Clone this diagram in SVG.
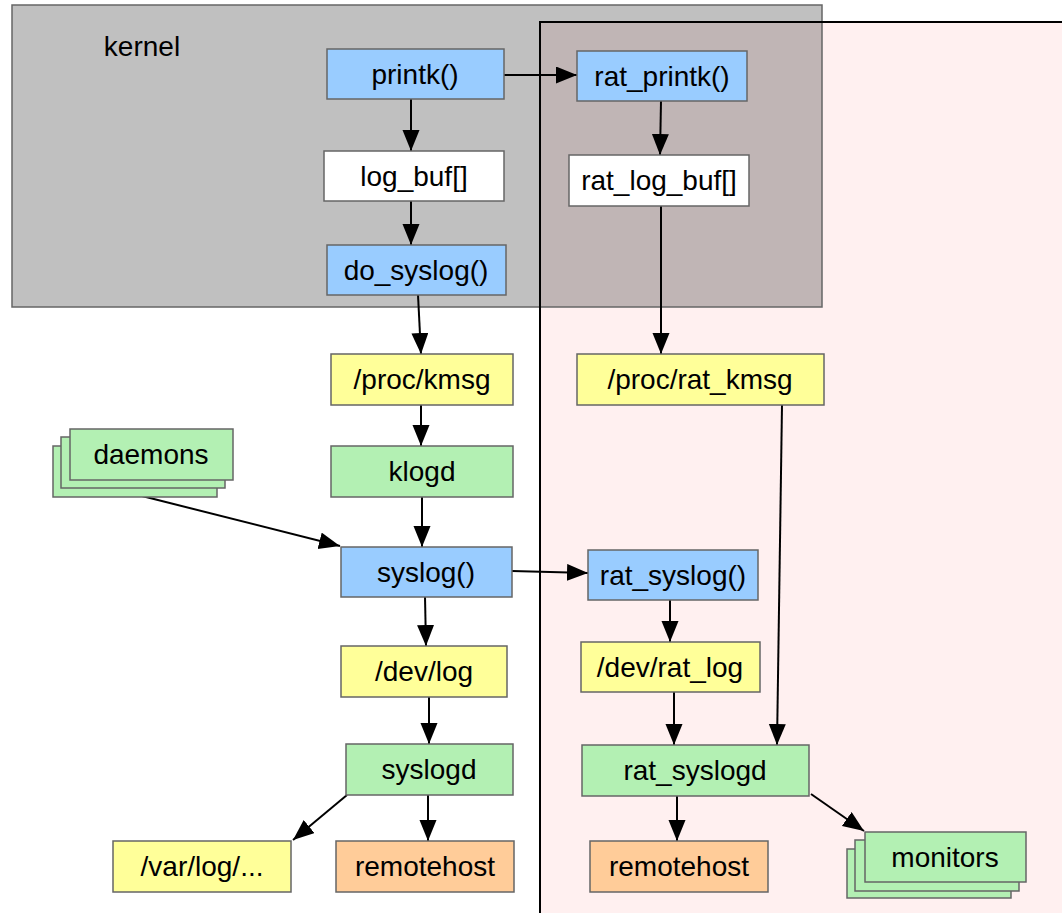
<svg xmlns="http://www.w3.org/2000/svg" width="1062" height="913" viewBox="0 0 1062 913">
<style>
text{font-family:"Liberation Sans",Arial,sans-serif;font-size:28px;fill:#000;text-anchor:middle}
.n{stroke:#666;stroke-width:1.5}
.blue{fill:#99ccff}.yellow{fill:#ffff99}.green{fill:#b3f0b3}.orange{fill:#ffcc99}.white{fill:#fff}
.c line{stroke:#000;stroke-width:2;marker-end:url(#ah)}
</style>
<defs>
<marker id="ah" markerUnits="userSpaceOnUse" markerWidth="22" markerHeight="18" refX="21" refY="8.5" orient="auto">
<path d="M0,0 L21,8.5 L0,17 z" fill="#000"/>
</marker>
</defs>
<rect x="0" y="0" width="1062" height="913" fill="#fff"/>
<g id="regions">
<rect x="12" y="5" width="810" height="302" fill="#c0c0c0"/>
<rect x="540" y="22" width="540" height="900" fill="#fff0f0"/>
<rect x="540" y="22" width="282" height="285" fill="#c0b5b5"/>
<rect x="12" y="5" width="810" height="302" fill="none" stroke="#666" stroke-width="1.5"/>
<rect x="540" y="22" width="540" height="900" fill="none" stroke="#000" stroke-width="2"/>
<text x="142" y="56">kernel</text>
</g>
<g class="c" id="connectors">
<line x1="411" y1="99" x2="411" y2="151"/>
<line x1="411" y1="201" x2="411" y2="245"/>
<line x1="418" y1="295" x2="421" y2="354"/>
<line x1="421" y1="405" x2="421" y2="446"/>
<line x1="422" y1="497" x2="422" y2="547"/>
<line x1="142" y1="496" x2="340" y2="546"/>
<line x1="425" y1="597" x2="426" y2="646"/>
<line x1="429" y1="697" x2="429" y2="744"/>
<line x1="347" y1="795" x2="293" y2="840"/>
<line x1="428" y1="795" x2="428" y2="841"/>
<line x1="504" y1="75" x2="577" y2="75"/>
<line x1="661" y1="101" x2="660" y2="155"/>
<line x1="661" y1="206" x2="661" y2="354"/>
<line x1="512" y1="571" x2="588" y2="573"/>
<line x1="670" y1="600" x2="670" y2="642"/>
<line x1="674" y1="692" x2="674" y2="745"/>
<line x1="782" y1="405" x2="777" y2="745"/>
<line x1="677" y1="796" x2="677" y2="841"/>
<line x1="811" y1="794" x2="864" y2="831"/>
</g>
<g id="printk"><rect class="n blue" x="327" y="49" width="177" height="50"/><text x="415" y="84">printk()</text></g>
<g id="log_buf"><rect class="n white" x="324" y="151" width="180" height="50"/><text x="414" y="186">log_buf[]</text></g>
<g id="do_syslog"><rect class="n blue" x="327" y="245" width="179" height="50"/><text x="416" y="280">do_syslog()</text></g>
<g id="rat_printk"><rect class="n blue" x="577" y="51" width="170" height="50"/><text x="662" y="86">rat_printk()</text></g>
<g id="rat_log_buf"><rect class="n white" x="569" y="155" width="180" height="51"/><text x="659" y="190">rat_log_buf[]</text></g>
<g id="proc_kmsg"><rect class="n yellow" x="331" y="354" width="182" height="51"/><text x="422" y="389">/proc/kmsg</text></g>
<g id="proc_rat_kmsg"><rect class="n yellow" x="577" y="354" width="247" height="51"/><text x="700" y="389">/proc/rat_kmsg</text></g>
<g id="daemons">
<rect class="n green" x="53" y="446" width="164" height="51"/>
<rect class="n green" x="61" y="437" width="164" height="51"/>
<rect class="n green" x="70" y="429" width="163" height="51"/>
<text x="151" y="464">daemons</text>
</g>
<g id="klogd"><rect class="n green" x="331" y="446" width="182" height="51"/><text x="422" y="481">klogd</text></g>
<g id="syslog"><rect class="n blue" x="341" y="547" width="171" height="50"/><text x="426" y="582">syslog()</text></g>
<g id="rat_syslog"><rect class="n blue" x="588" y="550" width="170" height="50"/><text x="673" y="585">rat_syslog()</text></g>
<g id="dev_log"><rect class="n yellow" x="341" y="646" width="166" height="51"/><text x="424" y="681">/dev/log</text></g>
<g id="dev_rat_log"><rect class="n yellow" x="581" y="642" width="179" height="50"/><text x="670" y="677">/dev/rat_log</text></g>
<g id="syslogd"><rect class="n green" x="346" y="744" width="167" height="51"/><text x="429" y="779">syslogd</text></g>
<g id="rat_syslogd"><rect class="n green" x="582" y="745" width="227" height="51"/><text x="695" y="780">rat_syslogd</text></g>
<g id="var_log"><rect class="n yellow" x="113" y="841" width="178" height="51"/><text x="202" y="876">/var/log/...</text></g>
<g id="remotehost1"><rect class="n orange" x="336" y="841" width="178" height="51"/><text x="425" y="876">remotehost</text></g>
<g id="remotehost2"><rect class="n orange" x="590" y="841" width="178" height="51"/><text x="679" y="876">remotehost</text></g>
<g id="monitors">
<rect class="n green" x="847" y="849" width="164" height="49"/>
<rect class="n green" x="855" y="840" width="164" height="51"/>
<rect class="n green" x="865" y="832" width="161" height="50"/>
<text x="945" y="867">monitors</text>
</g>
</svg>
